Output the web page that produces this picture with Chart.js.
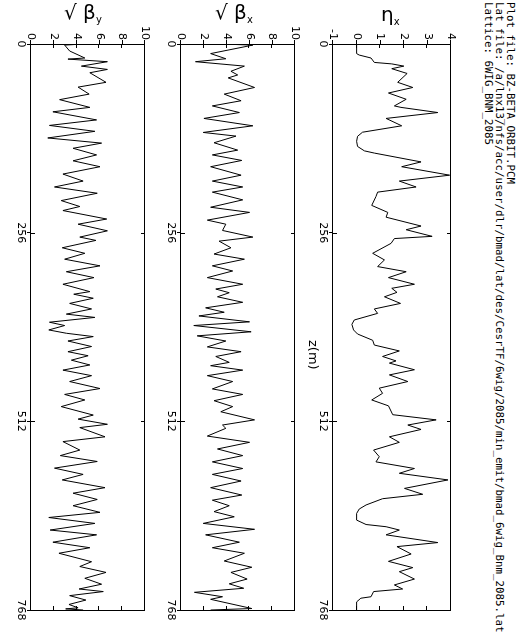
<!DOCTYPE html>
<html>
<head>
<meta charset="utf-8">
<script src="https://cdn.jsdelivr.net/npm/chart.js@4.4.1/dist/chart.umd.min.js"></script>
<style>
  html, body { margin: 0; padding: 0; background: #fff; }
  body { width: 518px; height: 632px; position: relative; overflow: hidden; color: #000; font-family: "DejaVu Sans", sans-serif; }
  /* the whole plot is drawn landscape and turned a quarter clockwise */
  #sheet { position: absolute; left: 0; top: 0; width: 632px; height: 518px; transform-origin: 0 0; transform: translate(518px, 0) rotate(90deg); }
  #sheet canvas { position: absolute; left: 0; }
  .hdr { position: absolute; left: 2px; font-family: "DejaVu Sans Mono", monospace; font-size: 10.8px; line-height: 11px; white-space: nowrap; }
  .xlab { position: absolute; font-size: 13px; white-space: nowrap; }
  .ttl { position: absolute; top: 0; font-size: 20px; line-height: 24px; white-space: nowrap; }
  .ttl sub { font-size: 10px; vertical-align: -4px; }
</style>
</head>
<body>
<div id="sheet">
  <div class="hdr" style="top:2px">Plot file: BZ-BETA_ORBIT.PCM</div>
  <div class="hdr" style="top:13px">Lat file: /a/lnx13/nfs/acc/user/dlr/bmad/lat/des/CesrTF/6wig/2085/min_emit/bmad_6wig_Bnm_2085.lat</div>
  <div class="hdr" style="top:24px">Lattice: 6WIG_BNM_2085</div>
  <canvas id="c-eta" width="632" height="150" style="top:57px"></canvas>
  <canvas id="c-bx" width="632" height="146" style="top:213px"></canvas>
  <canvas id="c-by" width="632" height="146" style="top:363px"></canvas>
  <div class="xlab" style="left:340px; top:197px">z(m)</div>
</div>
<div class="ttl" style="left:64px">√ β<sub>y</sub></div>
<div class="ttl" style="left:215px">√ β<sub>x</sub></div>
<div class="ttl" style="left:381px; top:2px">η<sub>x</sub></div>

<script>
// z ticks shared by all three panels
const zTicks = [0, 256, 512, 768];

// eta_x (m) vs z (m)
const zEta = [0, 13, 15, 19, 25, 27, 30, 33.5, 40, 52, 59, 66.5, 75, 84, 86, 93, 101, 111,
  119.7, 125.3, 132, 139, 145, 148, 160, 166.5, 178, 186, 194, 201, 207, 219, 228.5, 235, 247, 252, 261,
  264, 270.5, 284, 293, 302, 309, 317, 326, 331.5, 337, 343, 352, 359.5, 365.5, 374.5, 380.4, 388, 393.5,
  402, 408.5, 416.5, 424, 430, 433, 442, 449, 458, 467, 474, 483, 491, 503, 510, 517, 523,
  533, 540.5, 551, 560, 567, 576, 582.5, 591.5, 603, 611, 617, 625.5, 631, 637, 646, 652, 655, 659.5, 666,
  676.5, 682, 692, 702, 710.5, 716, 726, 734, 739.5, 743, 750, 752, 757, 768];
const eta = [0, 0, 0.11, 0.61, 0.75, 1.49, 2.0, 1.49, 2.14, 1.74, 2.38, 1.35, 2.10, 1.60, 1.88, 3.44, 1.25, 1.91,
  0.25, 0.04, 0, 0.04, 0.33, 0.75, 2.73, 1.91, 3.94, 1.81, 2.52, 0.89, 0.82, 0.64, 1.32, 1.25, 2.73, 2.10, 3.2,
  1.60, 1.46, 0.68, 1.18, 0.89, 2.10, 1.35, 2.45, 1.49, 1.71, 1.18, 1.86, 0.75, 0.89, -0.10, -0.20, -0.13, 0.04,
  0.68, 0.75, 1.81, 1.10, 1.67, 1.39, 2.45, 1.39, 2.17, 0.96, 1.10, 0.64, 1.35, 1.53, 3.37, 2.17, 2.73,
  1.39, 1.81, 0.72, 0.96, 0.82, 2.45, 1.81, 3.87, 2.03, 2.80, 1.10, 0.40, 0.11, 0, 0, 0.40, 1.25, 1.81, 1.25,
  3.44, 1.71, 2.31, 1.35, 2.38, 1.81, 2.45, 1.60, 1.95, 0.72, 0.61, 0.18, 0, 0];

// sqrt(beta_x) vs z
const zBx = [0, 1.5, 13, 20, 24, 30, 37, 42, 46, 59, 68, 77, 84, 93, 101, 111, 120, 125, 134, 144, 150.5,
  158, 166.5, 178, 186, 194, 201, 211.5, 221.5, 228.5, 239, 244.5, 253, 262, 267.5, 276.5, 285, 292, 301,
  308, 317, 326, 332.5, 337.5, 343, 350.5, 358, 364, 369, 377, 382, 390.5, 396, 403, 411, 417.5, 424, 432,
  436.5, 442.5, 450, 458, 468, 475.5, 484, 492, 499, 510, 517, 521.5, 532, 540.5, 549.5, 558.5, 567, 576,
  584, 593, 602, 612, 619, 626.5, 634.5, 641.5, 650.5, 658.5, 666, 676, 683.5, 691, 701.5, 710, 717, 726,
  732.5, 738.5, 744, 750, 753.5, 766, 768];
const bx = [3.49, 6.30, 2.60, 3.93, 1.27, 5.56, 4.38, 4.97, 4.14, 6.45, 3.79, 5.27, 2.75, 5.12, 2.01, 6.30, 1.95, 4.82, 2.90, 4.97, 2.75,
  5.33, 2.60, 5.27, 2.75, 5.41, 2.75, 5.41, 2.60, 6.01, 2.31, 3.93, 3.64, 6.30, 3.34, 4.38, 2.90, 5.56, 2.75,
  4.53, 2.31, 5.41, 3.05, 4.23, 3.20, 5.41, 2.16, 3.79, 1.57, 6.01, 1.12, 6.15, 1.42, 3.93, 2.31, 5.27, 3.05, 4.23,
  2.60, 5.41, 2.31, 4.53, 2.75, 5.41, 2.90, 4.53, 3.49, 6.45, 3.64, 3.93, 2.31, 6.01, 3.20, 5.41, 2.75, 5.41,
  2.75, 5.27, 2.60, 5.33, 2.75, 4.23, 2.90, 4.67, 1.95, 6.45, 2.16, 5.12, 2.75, 5.56, 3.79, 6.21, 4.38, 5.80,
  4.23, 5.50, 1.18, 3.64, 2.60, 6.21, 2.60];

// sqrt(beta_y) vs z
const zBy = [0, 1.5, 9.5, 19, 20.5, 24, 30, 34.5, 39, 52, 58.5, 68, 75.5, 86, 92, 103, 110.5, 118.5, 127.5,
  134.5, 141.5, 150.5, 158.5, 166.5, 176.5, 186, 194, 202.5, 212.5, 220.5, 226, 237.5, 244.5, 253.5, 262,
  266.5, 276.5, 284, 292, 301, 309, 317, 326, 336, 339.5, 345, 352, 359.5, 366.5, 371, 377.5, 382, 388,
  392.5, 397, 403, 410.5, 417.5, 423, 429, 435.5, 442.5, 450, 458, 467.5, 475.5, 483, 492, 503.5, 509, 516,
  520.5, 533, 539.5, 551, 558.5, 566.5, 575.5, 584, 591.5, 602, 609.5, 618, 626.5, 635.5, 642.5, 650.5,
  659.5, 666, 676, 683.5, 691, 702.5, 709, 717, 725, 733, 739.5, 743, 748.5, 754.5, 760.5, 765, 766.5, 768];
const by = [4.57, 2.95, 3.39, 4.72, 3.24, 6.70, 4.42, 6.70, 5.16, 6.58, 4.13, 5.10, 2.51, 5.16, 1.92, 5.75, 1.62, 5.60, 1.47,
  6.19, 3.69, 5.75, 3.69, 6.05, 2.80, 4.57, 2.06, 5.81, 2.65, 4.28, 2.80, 6.64, 4.13, 6.70, 4.28,
  5.69, 2.74, 4.72, 2.95, 6.05, 3.10, 5.52, 2.80, 5.16, 3.75, 5.46, 3.39, 5.31, 3.10, 5.60, 1.62, 2.95, 1.56,
  3.10, 5.46, 3.24, 5.31, 3.24, 5.01, 3.54, 5.16, 2.80, 5.31, 3.39, 6.05, 2.95, 4.72, 2.65, 5.46, 4.13, 6.70,
  4.28, 6.49, 2.80, 4.28, 2.57, 5.81, 2.06, 4.57, 2.74, 6.49, 3.69, 5.81, 3.69, 6.05, 1.56, 5.60,
  1.68, 5.75, 1.92, 5.16, 2.45, 5.31, 4.28, 6.58, 4.72, 6.19, 4.22, 6.34, 3.39, 4.81, 3.33, 4.13, 3.04, 4.57];

const tickFont = { family: 'DejaVu Sans', size: 11 };

// box round each panel, with the inward tick marks on all four sides
const frameTicks = {
  id: 'frameTicks',
  afterDraw(chart) {
    const { ctx, chartArea: a, scales: { x, y } } = chart;
    ctx.save();
    ctx.strokeStyle = '#000';
    ctx.lineWidth = 1;
    ctx.strokeRect(Math.round(a.left) + 0.5, Math.round(a.top) + 0.5,
      Math.round(a.right - a.left), Math.round(a.bottom - a.top));
    ctx.beginPath();
    x.ticks.forEach(t => {
      const px = Math.round(x.getPixelForValue(t.value)) + 0.5;
      ctx.moveTo(px, a.top); ctx.lineTo(px, a.top + 4);
      ctx.moveTo(px, a.bottom); ctx.lineTo(px, a.bottom - 4);
    });
    y.ticks.forEach(t => {
      const py = Math.round(y.getPixelForValue(t.value)) + 0.5;
      ctx.moveTo(a.left, py); ctx.lineTo(a.left + 4, py);
      ctx.moveTo(a.right, py); ctx.lineTo(a.right - 4, py);
    });
    ctx.stroke();
    ctx.restore();
  }
};

function makePanel(id, zs, vals, yMin, yMax, yStep) {
  new Chart(document.getElementById(id), {
    type: 'line',
    data: {
      datasets: [{
        data: zs.map((z, i) => ({ x: z, y: vals[i] })),
        borderColor: '#000',
        borderWidth: 1,
        pointRadius: 0,
        tension: 0,
        fill: false
      }]
    },
    options: {
      responsive: false,
      animation: false,
      devicePixelRatio: 1,
      layout: { padding: { left: 0, right: 22, top: 10, bottom: 0 } },
      plugins: { legend: { display: false }, tooltip: { enabled: false } },
      scales: {
        x: {
          type: 'linear',
          min: 0,
          max: 768,
          afterBuildTicks: s => { s.ticks = zTicks.map(v => ({ value: v })); },
          afterFit: s => { s.height = 22; },
          grid: { drawOnChartArea: false, drawTicks: true, tickLength: 4, color: '#000' },
          border: { display: true, color: '#000', width: 1 },
          ticks: { color: '#000', font: tickFont, padding: 0, maxRotation: 0, autoSkip: false }
        },
        y: {
          min: yMin,
          max: yMax,
          afterFit: s => { s.width = 44; },
          grid: { drawOnChartArea: false, drawTicks: true, tickLength: 4, color: '#000' },
          border: { display: true, color: '#000', width: 1 },
          ticks: { stepSize: yStep, color: '#000', font: tickFont, padding: 0 }
        }
      }
    },
    plugins: [frameTicks]
  });
}

makePanel('c-eta', zEta, eta, -1, 4, 1);
makePanel('c-bx', zBx, bx, 0, 10, 2);
makePanel('c-by', zBy, by, 0, 10, 2);
</script>
</body>
</html>
